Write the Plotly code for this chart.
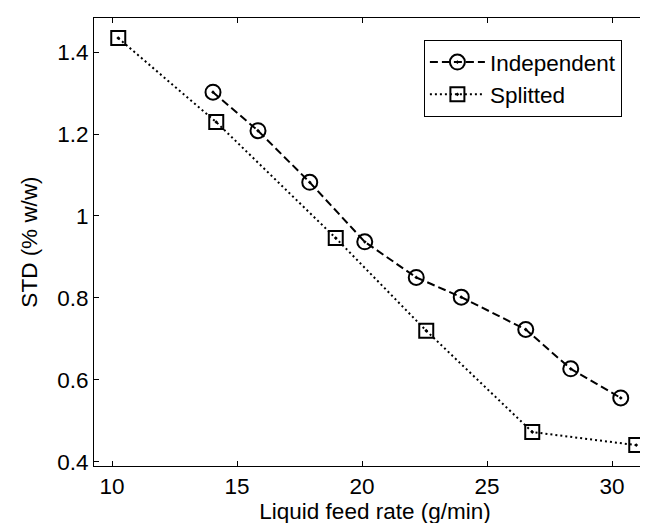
import plotly.graph_objects as go

# Data
indep_x = [14.04, 15.84, 17.91, 20.11, 22.17, 23.97, 26.55, 28.35, 30.35]
indep_y = [1.302, 1.208, 1.082, 0.937, 0.850, 0.802, 0.723, 0.627, 0.556]
split_x = [10.25, 14.17, 18.95, 22.57, 26.81, 30.97]
split_y = [1.434, 1.229, 0.946, 0.720, 0.473, 0.441]

x_ticks = [10, 15, 20, 25, 30]
x_tick_labels = ["10", "15", "20", "25", "30"]
y_ticks = [0.4, 0.6, 0.8, 1.0, 1.2, 1.4]
y_tick_labels = ["0.4", "0.6", "0.8", "1", "1.2", "1.4"]

FONT = "Liberation Sans, Arial, Helvetica, sans-serif"
FS = 22.5

fig = go.Figure()
fig.add_trace(go.Scatter(
    x=indep_x, y=indep_y, name="Independent", mode="lines+markers",
    line=dict(color="black", width=2, dash="8px,4px"),
    marker=dict(symbol="circle-open-dot", size=15, color="black",
                line=dict(color="black", width=2)),
))
fig.add_trace(go.Scatter(
    x=split_x, y=split_y, name="Splitted", mode="lines+markers",
    line=dict(color="black", width=2, dash="2px,3px"),
    marker=dict(symbol="square-open-dot", size=14, color="black",
                line=dict(color="black", width=2)),
))

fig.update_layout(
    width=648, height=523,
    margin=dict(l=86, r=0, t=10, b=65),
    paper_bgcolor="white", plot_bgcolor="white",
    font=dict(family=FONT, size=FS, color="black"),
    showlegend=True,
    legend=dict(
        x=0.587, y=0.951, xanchor="left", yanchor="top",
        bordercolor="black", borderwidth=1, bgcolor="white",
        font=dict(family=FONT, size=FS, color="black"),
        tracegroupgap=0, itemwidth=55,
    ),
    xaxis=dict(
        range=[9.28, 31.76], tickvals=x_ticks, ticktext=x_tick_labels,
        showgrid=False, zeroline=False, showline=True, linecolor="black",
        linewidth=1, mirror="ticks", ticks="inside", ticklen=5,
        tickcolor="black", tickwidth=1,
        tickfont=dict(family=FONT, size=FS),
        title=dict(text="Liquid feed rate (g/min)", standoff=2,
                   font=dict(family=FONT, size=FS)),
    ),
    yaxis=dict(
        range=[0.39, 1.483], tickvals=y_ticks, ticktext=y_tick_labels,
        showgrid=False, zeroline=False, showline=True, linecolor="black",
        linewidth=1, mirror=False, ticks="inside", ticklen=5,
        tickcolor="black", tickwidth=1,
        tickfont=dict(family=FONT, size=FS),
        title=dict(text="STD (% w/w)", standoff=13,
                   font=dict(family=FONT, size=FS)),
    ),
)

fig.write_html("out.html", config={"displayModeBar": False})
